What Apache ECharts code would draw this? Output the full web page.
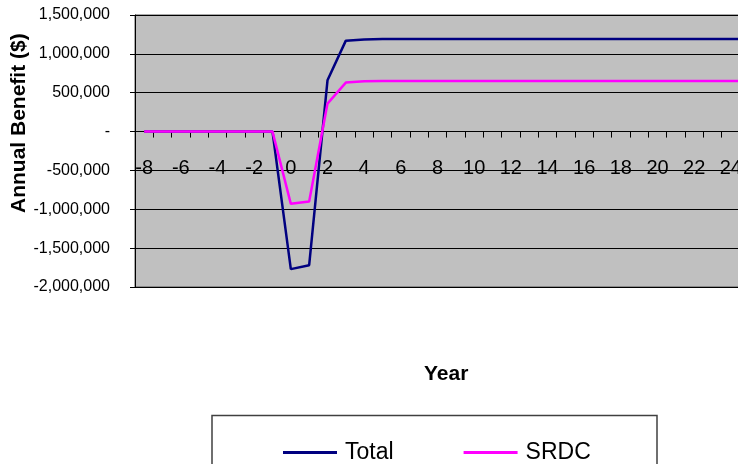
<!DOCTYPE html>
<html>
<head>
<meta charset="utf-8">
<script src="https://cdn.jsdelivr.net/npm/echarts@6/dist/echarts.min.js"></script>
<style>html,body{margin:0;padding:0;background:#fff}#c{width:738px;height:464px}</style>
</head>
<body>
<div id="c"></div>
<script>
var years = ['-8','-7','-6','-5','-4','-3','-2','-1','0','1','2','3','4','5','6','7','8','9','10','11','12','13','14','15','16','17','18','19','20','21','22','23','24','25','26','27','28','29','30'];
var totalValues = [0,0,0,0,0,0,0,0,-1770000,-1720000,660000,1170000,1185000,1190000,1190000,1190000,1190000,1190000,1190000,1190000,1190000,1190000,1190000,1190000,1190000,1190000,1190000,1190000,1190000,1190000,1190000,1190000,1190000,1190000,1190000,1190000,1190000,1190000,1190000];
var srdcValues = [0,0,0,0,0,0,0,0,-930000,-900000,360000,630000,648000,650000,650000,650000,650000,650000,650000,650000,650000,650000,650000,650000,650000,650000,650000,650000,650000,650000,650000,650000,650000,650000,650000,650000,650000,650000,650000];
var seriesNames = ['Total', 'SRDC'];
var yTitle = 'Annual Benefit ($)';
var xTitle = 'Year';

var FONT = '"Liberation Sans", Arial, sans-serif';
var chart = echarts.init(document.getElementById('c'), null, {renderer: 'canvas'});
chart.setOption({
  animation: false,
  grid: {left: 135, top: 15, width: 715, height: 272, show: true, backgroundColor: '#C0C0C0', borderColor: '#555555', borderWidth: 1, outerBoundsMode: 'none', containLabel: false},
  xAxis: {
    type: 'category', data: years, boundaryGap: true, position: 'bottom', offset: -155.43,
    axisLine: {onZero: false, lineStyle: {color: '#000', width: 1}},
    axisTick: {show: true, interval: 0, length: 6, lineStyle: {color: '#000'}},
    axisLabel: {interval: 1, margin: 27, fontSize: 20, color: '#000', fontFamily: FONT, hideOverlap: false},
    splitLine: {show: false}
  },
  yAxis: {
    type: 'value', min: -2000000, max: 1500000, interval: 500000,
    axisLine: {show: true, lineStyle: {color: '#000', width: 1}},
    axisTick: {show: true, length: 5, lineStyle: {color: '#000'}},
    axisLabel: {margin: 25, fontSize: 16, color: '#000', fontFamily: FONT,
      formatter: function (v) { return v === 0 ? '-' : v.toLocaleString('en-US'); }},
    splitLine: {show: true, lineStyle: {color: '#000', width: 1}}
  },
  legend: {
    data: seriesNames, left: 283, top: 441, padding: 0, icon: 'rect', itemWidth: 54, itemHeight: 3, itemGap: 70,
    textStyle: {fontSize: 23, color: '#000', fontFamily: FONT, padding: [0, 0, 0, 3]}
  },
  graphic: [
    {type: 'text', rotation: Math.PI / 2, x: 9, y: 213, style: {text: yTitle, font: 'bold 21px ' + FONT, fill: '#000'}},
    {type: 'text', left: 424, top: 364, style: {text: xTitle, font: 'bold 21px ' + FONT, fill: '#000'}},
    {type: 'rect', shape: {x: 212, y: 415.5, width: 445, height: 80}, style: {fill: 'none', stroke: '#404040', lineWidth: 1.5}, z: -1}
  ],
  series: [
    {name: seriesNames[0], type: 'line', data: totalValues, symbol: 'none', lineStyle: {color: '#000080', width: 2.5}, itemStyle: {color: '#000080'}},
    {name: seriesNames[1], type: 'line', data: srdcValues, symbol: 'none', lineStyle: {color: '#FF00FF', width: 2.5}, itemStyle: {color: '#FF00FF'}}
  ]
});
</script>
</body>
</html>
